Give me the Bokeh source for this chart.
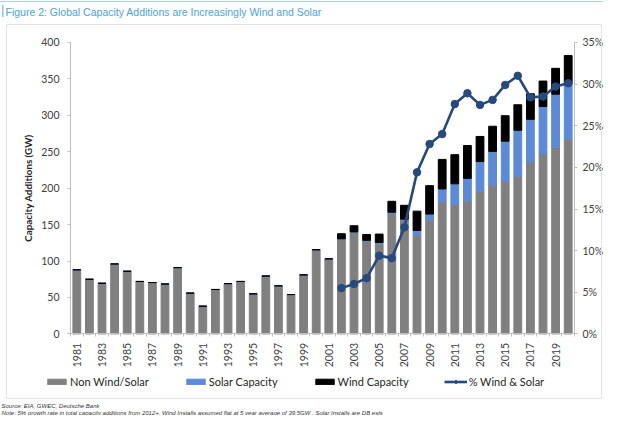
from math import pi
from bokeh.plotting import figure
from bokeh.models import (Range1d, LinearAxis, FixedTicker, PrintfTickFormatter,
                          Legend, LegendItem, Title, Label, ColumnDataSource, InlineStyleSheet)
from bokeh.embed import file_html
from bokeh.resources import INLINE

# ---------------- data ----------------
years = list(range(1981, 2021))
non_ws = [88, 75, 69.5, 96, 86, 72, 70.5, 68.5, 91, 56,
          38, 61, 69, 72, 55, 79.5, 66, 54, 81, 115.5,
          103, 130, 139, 127.5, 124, 165, 155.5, 135.5, 156, 181,
          177.5, 182.5, 196, 204, 209.5, 216.5, 235.5, 247, 256, 267.5]
solar = [0, 0, 0, 0, 0, 0, 0, 0, 0, 0,
         0, 0, 0, 0, 0, 0, 0, 0, 0, 0,
         0, 0.5, 1, 1, 1.5, 2, 2, 6.5, 8.5, 18,
         28.5, 31, 40.5, 46.5, 55, 63, 59, 65, 73, 75]
wind = [0, 0, 0, 0, 0, 0, 0, 0, 0, 0,
        0, 0, 0, 0, 0, 0, 0, 0, 0, 0,
        0, 7, 8.5, 8, 11.5, 15, 19, 26.5, 39, 40.5,
        40, 45, 34.5, 34.5, 35, 35, 35, 35, 35.5, 39.5]
pct_years = list(range(2002, 2021))
pct_ws = [5.5, 6.0, 6.7, 9.4, 9.1, 12.8, 19.4, 22.8, 24.0, 27.6,
          28.9, 27.5, 28.1, 29.9, 31.0, 28.4, 28.5, 29.7, 30.1]
label_years = list(range(1981, 2021, 2))
gw_ticks = list(range(0, 401, 50))
pct_ticks = list(range(0, 36, 5))

series_names = ["Non Wind/Solar", "Solar Capacity", "Wind Capacity"]
line_name = "% Wind & Solar"
title_text = "Figure 2: Global Capacity Additions are Increasingly Wind and Solar"
source_text = "Source: EIA, GWEC, Deutsche Bank"
note_text = ("Note: 5% growth rate in total capacity additions from 2012+.  Wind Installs assumed "
             "flat at 5 year average of 39.5GW .  Solar Installs are DB ests")

# ---------------- layout (pixels) ----------------
W, H = 603, 415
FRAME_TOP = 28    # top of the drawing frame
TOP = 40          # pixel row of value 400 GW / 35 %
ZERO = 333        # pixel row of value 0
LEFT = 70         # pixel column of the left value axis
RIGHT = 574       # pixel column of the right value axis
x_first, x_last = years[0] - 0.5, years[-1] + 0.5
gw_max, pct_max = gw_ticks[-1], pct_ticks[-1]
px_yr = (RIGHT - LEFT) / (x_last - x_first)
px_gw = (ZERO - TOP) / gw_max
px_pct = (ZERO - TOP) / pct_max

# ---------------- styles ----------------
GRAY = "#808080"
BLUE = "#5b8bd8"
BLACK = "#000000"
NAVY = "#264a80"
AXIS = "#bfbfbf"
TXT = "#404040"
FONT = "Lato"
TITLE_BLUE = "#4aa3df"

frame_css = InlineStyleSheet(css="""
:host { position: relative; }
:host::before {
  content: ""; position: absolute; left: 0; top: 0; width: 603px; height: 20px;
  pointer-events: none; z-index: 5;
  background:
    linear-gradient(#a9d3f1, #a9d3f1) 0 1px / 100% 1px no-repeat,
    linear-gradient(#8cc4ec, #8cc4ec) 2px 5px / 1.5px 12px no-repeat;
}
:host::after {
  content: ""; position: absolute; left: 6px; top: 24px; width: 594px; height: 373px;
  border: 1px solid #e4e4e4; pointer-events: none; z-index: 5;
}
""")

p = figure(width=W, height=H, output_backend="svg", toolbar_location=None,
           x_range=Range1d(x_first - LEFT / px_yr, x_last + (W - RIGHT) / px_yr),
           y_range=Range1d(-(H - ZERO) / px_gw, gw_max + (TOP - FRAME_TOP) / px_gw),
           min_border_left=0, min_border_right=0, min_border_top=FRAME_TOP,
           min_border_bottom=0, outline_line_color=None, stylesheets=[frame_css])
p.grid.visible = False
p.extra_y_ranges = {"pct": Range1d(-(H - ZERO) / px_pct,
                                   pct_max + (TOP - FRAME_TOP) / px_pct)}

src = ColumnDataSource(dict(year=years, non_ws=non_ws, solar=solar, wind=wind))
bars = p.vbar_stack(["non_ws", "solar", "wind"], x="year", width=0.62,
                    color=[GRAY, BLUE, BLACK], source=src)

ln = p.line(pct_years, pct_ws, y_range_name="pct", line_width=2.6, color=NAVY)
pts = p.scatter(pct_years, pct_ws, y_range_name="pct", size=7.5, marker="circle",
                fill_color=NAVY, line_color=NAVY)

# left axis (GW)
ya = p.yaxis[0]
ya.ticker = FixedTicker(ticks=gw_ticks)
ya.fixed_location = x_first
ya.bounds = (0, gw_max)
ya.axis_label = "Capacity Additions (GW)"
ya.axis_label_text_font = FONT
ya.axis_label_text_font_style = "bold"
ya.axis_label_text_font_size = "9.8px"
ya.axis_label_text_color = "#262626"
ya.axis_label_standoff = 4

# right axis (%)
ra = LinearAxis(y_range_name="pct", ticker=FixedTicker(ticks=pct_ticks),
                formatter=PrintfTickFormatter(format="%d%%"),
                fixed_location=x_last, bounds=(0, pct_max))
p.add_layout(ra, "right")

# bottom axis (years)
xa = p.xaxis[0]
xa.fixed_location = 0
xa.bounds = (x_first, x_last)
xa.ticker = FixedTicker(ticks=label_years,
                        minor_ticks=[y - 0.5 for y in years] + [years[-1] + 0.5])
xa.major_label_orientation = pi / 2
xa.major_tick_out = 0
xa.major_tick_in = 0
xa.minor_tick_out = 3
xa.minor_tick_in = 0
xa.minor_tick_line_color = AXIS
xa.major_label_standoff = 6

for ax in (ya, ra, xa):
    ax.axis_line_color = AXIS
    ax.major_tick_line_color = AXIS
    ax.major_label_text_font = FONT
    ax.major_label_text_font_size = "10.5px"
    ax.major_label_text_color = TXT
for ax in (ya, ra):
    ax.major_tick_out = 3
    ax.major_tick_in = 0
    ax.minor_tick_line_color = None
ya.major_label_standoff = 8
ra.major_label_standoff = 5

# legend (inside the frame, below the year labels)
legend = Legend(items=[LegendItem(label=series_names[0], renderers=[bars[0]]),
                       LegendItem(label=series_names[1], renderers=[bars[1]]),
                       LegendItem(label=series_names[2], renderers=[bars[2]]),
                       LegendItem(label=line_name, renderers=[ln, pts])],
                orientation="horizontal", location=(45, H - 381 - 7), spacing=35,
                glyph_width=23, glyph_height=7, label_height=14, label_standoff=2,
                padding=0, margin=0, border_line_color=None, background_fill_alpha=0,
                label_text_font=FONT, label_text_font_size="11px",
                label_text_color="#262626")
p.add_layout(legend, "center")

# footnotes
p.add_layout(Label(x=1, y=H - 405, x_units="screen", y_units="screen", text=source_text,
                   text_font="Liberation Sans", text_font_size="6px",
                   text_font_style="italic", text_color="#333333", text_baseline="middle"))
p.add_layout(Label(x=1, y=H - 412, x_units="screen", y_units="screen", text=note_text,
                   text_font="Liberation Sans", text_font_size="6px",
                   text_font_style="italic", text_color="#333333", text_baseline="middle"))

# spacer between the title and the chart frame, then the title itself
p.add_layout(Title(text=" ", standoff=3, text_font_size="1px"), "above")
p.add_layout(Title(text=title_text, align="left", offset=5, standoff=10,
                   vertical_align="top", text_font="Liberation Sans",
                   text_font_size="10.5px", text_font_style="normal",
                   text_color=TITLE_BLUE), "above")

open("out.html", "w").write(file_html(p, INLINE))
